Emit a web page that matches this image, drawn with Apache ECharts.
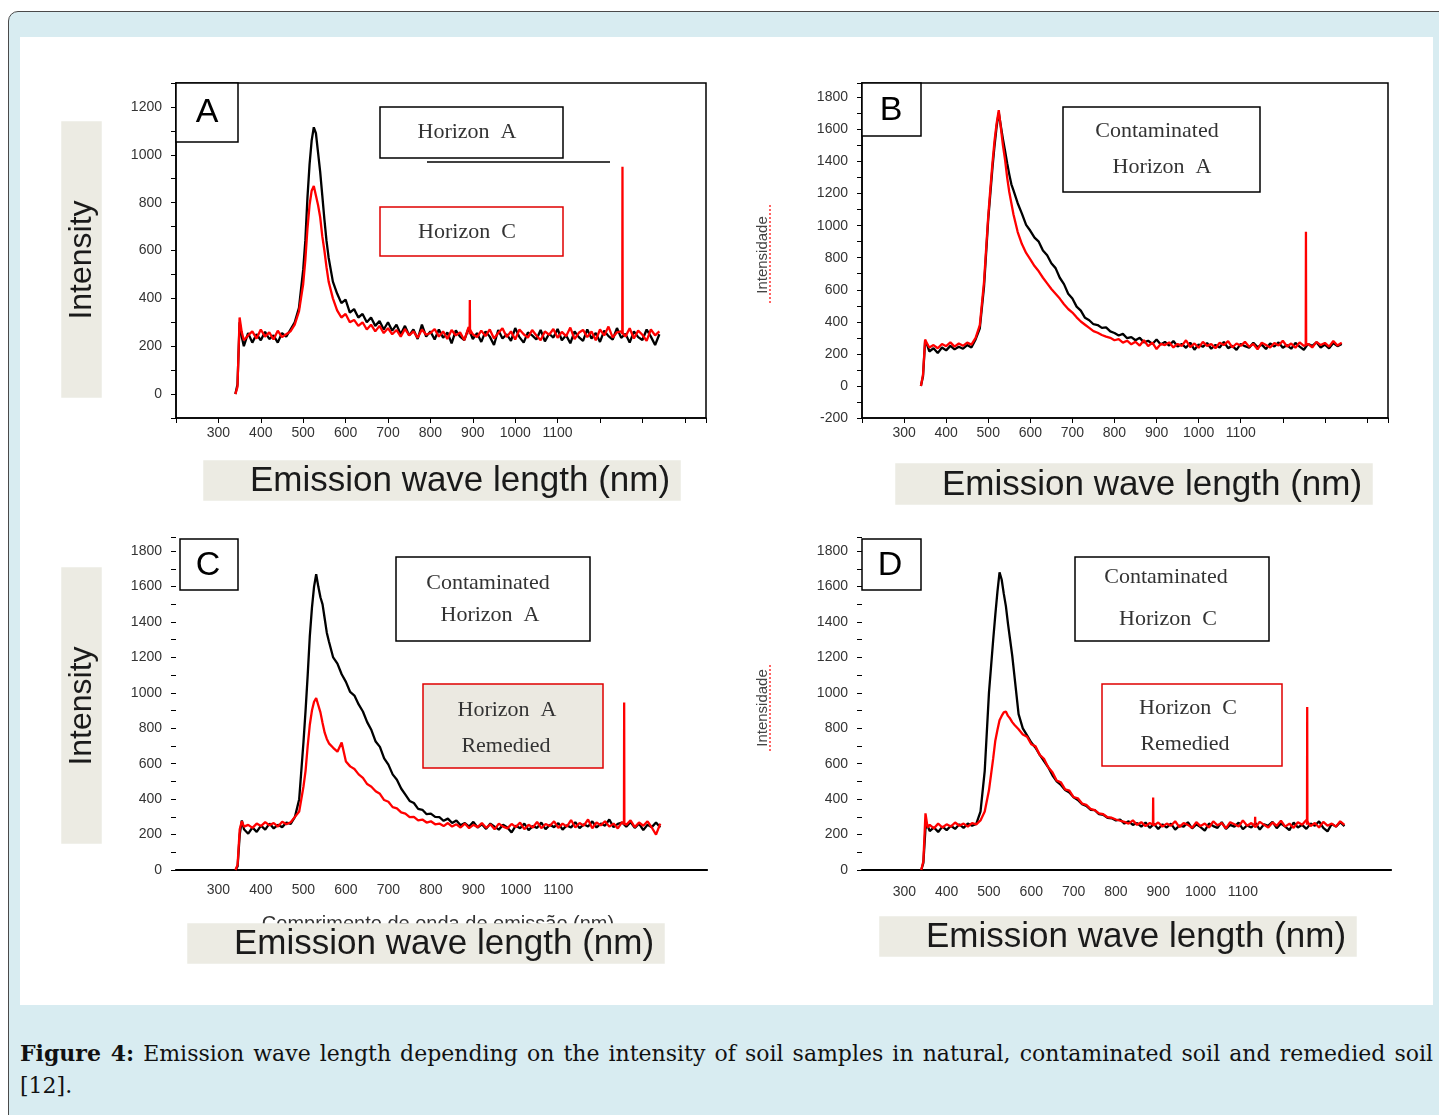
<!DOCTYPE html>
<html>
<head>
<meta charset="utf-8">
<script src="https://cdn.jsdelivr.net/npm/echarts@6/dist/echarts.min.js"></script>
<style>
  body { margin: 0; background: #fff; }
  .outer {
    position: absolute; left: 8px; top: 11px; width: 1460px; height: 1130px;
    background: #d8ecf1; border: 1.5px solid #4a4a4a; border-radius: 10px 0 0 0;
  }
  .inner { position: absolute; left: 20px; top: 37px; width: 1413px; height: 968px; background: #fff; }
  .caption {
    position: absolute; left: 20px; top: 1037px; width: 1413px;
    font-family: 'DejaVu Serif', serif; font-size: 22px; line-height: 32px; color: #111;
  }
  .caption .l1 { text-align: justify; text-align-last: justify; white-space: nowrap; }
  #chart { position: absolute; left: 0; top: 0; width: 1439px; height: 1115px; }
</style>
</head>
<body>
<div class="outer"></div>
<div class="inner"></div>
<div class="caption">
  <div class="l1"><b>Figure 4:</b> Emission wave length depending on the intensity of soil samples in natural, contaminated soil and remedied soil</div>
  <div>[12].</div>
</div>
<div id="chart"></div>
<script>
// wavelength sampling (nm), shared by all four panels
const wl = [340, 345, 350, 355, 360,
  370, 380, 390, 400, 410, 420, 430, 440, 450, 460, 470, 480, 490, 500,
  505, 510, 515, 520, 525, 530, 535, 540, 545, 550, 555, 560,
  570, 580, 590, 600, 610, 620, 630, 640, 650, 660, 670, 680, 690, 700, 710, 720, 730, 740, 750, 760, 770, 780, 790,
  800, 810, 820, 830, 840, 850, 860, 870, 880, 890, 900, 910, 920, 930, 940, 950, 960, 970, 980, 990,
  1000, 1010, 1020, 1030, 1040, 1050, 1060, 1070, 1080, 1090, 1100, 1110, 1120, 1130, 1140, 1150, 1160, 1170, 1180, 1190,
  1200, 1210, 1220, 1230, 1240, 1250, 1260, 1270, 1280, 1290, 1300, 1310, 1320, 1330, 1340]

// A: Horizon A (black) / Horizon C (red)
const horizonA = [0, 40, 300, 240, 200,
  255, 215, 250, 225, 260, 230, 245, 215, 255, 240, 270, 300, 360, 520,
  640, 820, 960, 1060, 1115, 1090, 1010, 930, 830, 730, 640, 570,
  470, 420, 380, 395, 340, 355, 320, 335, 300, 320, 285, 305, 270, 300, 265, 290, 250, 285, 245, 270, 230, 290, 240,
  262, 228, 270, 235, 258, 212, 266, 240, 225, 275, 230, 255, 218, 262, 240, 205, 268, 232, 250, 222,
  276, 238, 215, 258, 245, 228, 268, 220, 252, 236, 272, 225, 246, 212, 262, 238, 222, 270, 232, 255,
  218, 265, 242, 228, 276, 235, 252, 215, 262, 238, 226, 270, 240, 205, 250]
const horizonC = [0, 30, 320, 260, 225,
  245, 262, 232, 270, 240, 258, 228, 265, 238, 250, 262, 290, 345, 460,
  560, 690, 790, 850, 870, 830, 790, 740, 660, 600, 530, 470,
  400, 350, 320, 335, 300, 310, 285, 300, 270, 290, 262, 285, 255, 275, 250, 268, 240, 272, 245, 262, 235, 270, 248,
  255, 272, 240, 262, 230, 268, 245, 258, 225, 280, 250, 238, 265, 242, 270, 232, 255, 275, 238, 262,
  228, 270, 250, 236, 268, 245, 225, 262, 248, 272, 235, 260, 242, 278, 230, 256, 268, 238, 262, 225,
  270, 245, 282, 236, 258, 262, 240, 275, 232, 265, 248, 222, 270, 245, 262]

// B: Contaminated Horizon A (black) / Horizon A (red)
const contamA_B = [0, 60, 280, 255, 215,
  235, 205, 240, 222, 250, 228, 245, 232, 255, 240, 290, 360, 620, 1040,
  1200, 1360, 1500, 1620, 1705, 1620, 1540, 1466, 1390, 1320, 1258, 1220,
  1140, 1075, 1005, 968, 925, 900, 845, 815, 765, 735, 675, 635, 575, 545, 495, 470, 425, 410, 385, 380, 362, 365, 340,
  330, 315, 325, 298, 305, 285, 300, 272, 282, 262, 290, 258, 275, 252, 280, 246, 262, 238, 270, 226,
  258, 244, 268, 232, 256, 240, 275, 236, 250, 225, 262, 248, 238, 270, 242, 258, 230, 265, 246, 272,
  238, 255, 232, 268, 245, 226, 262, 250, 272, 240, 258, 235, 268, 248, 262]
const horizonA_B = [0, 70, 290, 262, 240,
  255, 235, 262, 248, 272, 245, 265, 250, 270, 258, 300, 380, 650, 1060,
  1230, 1390, 1530, 1640, 1720, 1610, 1500, 1410, 1300, 1210, 1140, 1070,
  960, 885, 830, 790, 748, 715, 675, 640, 605, 575, 545, 510, 480, 458, 428, 402, 382, 362, 342, 332, 318, 308, 300,
  285, 292, 270, 282, 260, 275, 252, 285, 248, 270, 230, 262, 255, 272, 240, 262, 250, 285, 242, 265,
  238, 275, 250, 262, 235, 270, 255, 280, 240, 265, 250, 275, 245, 262, 228, 270, 255, 240, 268, 252,
  282, 246, 265, 238, 272, 250, 262, 240, 275, 255, 268, 245, 280, 252, 270]

// C: Contaminated Horizon A (black) / Horizon A Remedied (red)
const contamA_C = [0, 20, 200, 280, 230,
  205, 240, 215, 250, 228, 262, 235, 255, 242, 268, 260, 300, 400, 720,
  900, 1100, 1320, 1480, 1600, 1670, 1600, 1540, 1500, 1420, 1340, 1290,
  1200, 1165, 1105, 1062, 1005, 985, 935, 895, 835, 790, 725, 695, 630, 595, 540, 510, 460, 425, 390, 378, 345, 340, 315,
  318, 300, 298, 278, 290, 265, 280, 252, 265, 245, 272, 240, 258, 232, 262, 245, 228, 255, 240, 212,
  250, 236, 262, 225, 248, 238, 268, 230, 255, 242, 265, 228, 252, 240, 270, 236, 258, 245, 275, 240,
  262, 250, 285, 242, 260, 268, 245, 270, 238, 262, 225, 255, 242, 268, 240]
const remedA = [0, 30, 230, 275, 245,
  255, 238, 262, 248, 270, 252, 265, 245, 272, 258, 270, 300, 330, 470,
  560, 700, 820, 900, 950, 970, 930, 890, 830, 775, 740, 715,
  690, 668, 720, 612, 585, 570, 540, 520, 485, 470, 445, 430, 395, 385, 355, 348, 325, 318, 298, 300, 280, 285, 268,
  275, 258, 262, 248, 265, 245, 258, 240, 262, 236, 255, 242, 265, 238, 258, 230, 262, 245, 235, 260,
  242, 268, 230, 255, 240, 272, 236, 260, 248, 275, 238, 262, 245, 282, 240, 265, 250, 285, 236, 268,
  252, 275, 245, 262, 235, 270, 255, 280, 242, 268, 250, 275, 240, 200, 262]

// D: Contaminated Horizon C (black) / Horizon C Remedied (red)
const contamC = [0, 40, 235, 250, 220,
  240, 215, 245, 225, 250, 232, 258, 238, 262, 250, 260, 330, 560, 1000,
  1150, 1300, 1440, 1570, 1680, 1640, 1560, 1490, 1390, 1300, 1210, 1100,
  880, 800, 760, 720, 690, 650, 615, 580, 535, 500, 480, 452, 438, 410, 395, 372, 362, 340, 338, 315, 312, 295, 292,
  280, 285, 262, 275, 255, 265, 245, 268, 238, 260, 232, 258, 240, 262, 228, 250, 245, 270, 235, 258,
  242, 222, 262, 248, 238, 270, 232, 255, 245, 268, 230, 252, 240, 265, 228, 258, 250, 272, 236, 262,
  245, 225, 268, 240, 255, 232, 262, 250, 275, 238, 218, 260, 245, 270, 248]
const remedC = [0, 50, 320, 240, 255,
  235, 262, 240, 258, 245, 268, 250, 262, 245, 265, 258, 280, 330, 450,
  540, 630, 730, 790, 845, 870, 890, 895, 870, 855, 835, 820,
  795, 765, 752, 710, 698, 650, 628, 580, 552, 505, 495, 455, 448, 412, 405, 375, 368, 345, 338, 320, 315, 298, 295,
  285, 278, 272, 262, 280, 255, 270, 248, 265, 252, 268, 245, 262, 250, 275, 242, 265, 255, 238, 270,
  248, 262, 240, 275, 252, 265, 235, 270, 258, 245, 280, 250, 265, 242, 272, 255, 240, 268, 250, 278,
  245, 262, 238, 270, 255, 282, 248, 265, 240, 272, 250, 262, 245, 275, 255]

// narrow red spikes (wavelength, peak height)
const spikeA_wl = [893, 1253]
const spikeA_top = [393, 950]
const spikeB_wl = [1255]
const spikeB_top = [962]
const spikeC_wl = [1255]
const spikeC_top = [946]
const spikeD_wl = [888, 1129, 1252]
const spikeD_top = [409, 300, 920]

const chart = echarts.init(document.getElementById('chart'), null, { renderer: 'canvas' })

function pairs(xs, ys) {
  return xs.map((x, i) => [x, ys[i]])
}
function spikeData(xs, tops, base) {
  const d = []
  xs.forEach((x, i) => {
    d.push([x - 0.5, base], [x, tops[i]], [x + 0.5, base], [x + 0.5, '-'])
  })
  return d
}

const tickFont = { color: '#333', fontFamily: 'Liberation Sans', fontSize: 14 }

function xAxisFor(gi, ticks, margin) {
  return {
    type: 'value', gridIndex: gi, min: 200, max: 1450, interval: 100,
    axisLine: { show: true, onZero: false, lineStyle: { color: '#000', width: 1.5 } },
    axisTick: { show: ticks, length: 5, lineStyle: { color: '#000' } },
    splitLine: { show: false },
    axisLabel: Object.assign({ margin: margin, formatter: v => (v >= 300 && v <= 1100 ? v : '') }, tickFont)
  }
}
function topLine(gi) {
  return {
    type: 'value', gridIndex: gi, position: 'top', min: 200, max: 1450,
    axisLine: { show: true, lineStyle: { color: '#000', width: 2 } },
    axisTick: { show: false }, axisLabel: { show: false }, splitLine: { show: false }
  }
}
function yAxisFor(gi, min, max, top, showLine) {
  return {
    type: 'value', gridIndex: gi, min: min, max: max, interval: 100,
    axisLine: { show: showLine, onZero: false, lineStyle: { color: '#000', width: 1.5 } },
    axisTick: { show: true, length: 5, lineStyle: { color: '#000' } },
    splitLine: { show: false },
    axisLabel: Object.assign({ margin: 14, formatter: v => (v % 200 === 0 && v <= top ? v : '') }, tickFont)
  }
}

function line(name, gi, data, color) {
  return {
    name: name, type: 'line', xAxisIndex: gi, yAxisIndex: gi, data: data,
    showSymbol: false, symbol: 'none', lineStyle: { color: color, width: 2.3 }, itemStyle: { color: color },
    silent: true
  }
}

// graphic helpers
function box(x, y, w, h, stroke, fill) {
  return { type: 'rect', z: 100, shape: { x: x, y: y, width: w, height: h },
    style: { fill: fill || '#fff', stroke: stroke, lineWidth: 1.5 } }
}
function txt(text, x, y, font, color, rot, z) {
  return { type: 'text', z: z || 101, x: x, y: y, rotation: rot || 0,
    style: { text: text, font: font, fill: color || '#333', align: 'center', verticalAlign: 'middle' } }
}
const serif = '22px "Liberation Serif"'
const panelFont = '34px "Liberation Sans"'
const titleFont = '35px "Liberation Sans"'
const beige = '#ecebe3'

const graphics = [
  // panel A
  box(176, 83, 62, 59, '#000'), txt('A', 207, 113, panelFont, '#000'),
  box(380, 107, 183, 51, '#000'), txt('Horizon  A', 467, 132, serif),
  { type: 'line', z: 100, shape: { x1: 427, y1: 162, x2: 610, y2: 162 }, style: { stroke: '#000', lineWidth: 1.5 } },
  box(380, 207, 183, 49, '#e00000'), txt('Horizon  C', 467, 232, serif),
  // panel B
  box(862, 83, 59, 53, '#000'), txt('B', 891, 111, panelFont, '#000'),
  box(1063, 107, 197, 85, '#000'), txt('Contaminated', 1157, 131, serif), txt('Horizon  A', 1162, 167, serif),
  // panel C
  box(180, 539, 58, 51, '#000'), txt('C', 208, 566, panelFont, '#000'),
  box(396, 557, 194, 84, '#000'), txt('Contaminated', 488, 583, serif), txt('Horizon  A', 490, 615, serif),
  box(423, 684, 180, 84, '#e00000', '#ebe9e1'), txt('Horizon  A', 507, 710, serif), txt('Remedied', 506, 746, serif),
  // panel D
  box(862, 539, 59, 51, '#000'), txt('D', 890, 566, panelFont, '#000'),
  box(1075, 557, 194, 84, '#000'), txt('Contaminated', 1166, 577, serif), txt('Horizon  C', 1168, 619, serif),
  box(1102, 684, 180, 82, '#e00000'), txt('Horizon  C', 1188, 708, serif), txt('Remedied', 1185, 744, serif),
  // axis titles
  box(62, 122, 39, 275, beige, beige), txt('Intensity', 82, 260, '32px "Liberation Sans"', '#1a1a1a', Math.PI / 2, 102),
  box(62, 568, 39, 275, beige, beige), txt('Intensity', 82, 706, '32px "Liberation Sans"', '#1a1a1a', Math.PI / 2, 102),
  txt('Intensidade', 763, 255, '15px "Liberation Sans Narrow", "Liberation Sans"', '#444', Math.PI / 2),
  { type: 'line', z: 100, shape: { x1: 770, y1: 205, x2: 770, y2: 305 }, style: { stroke: '#ff3030', lineWidth: 1.5, lineDash: [2, 2] } },
  txt('Intensidade', 763, 708, '15px "Liberation Sans Narrow", "Liberation Sans"', '#444', Math.PI / 2),
  { type: 'line', z: 100, shape: { x1: 770, y1: 665, x2: 770, y2: 752 }, style: { stroke: '#ff3030', lineWidth: 1.5, lineDash: [2, 2] } },
  txt('Comprimento de onda de emissão (nm)', 438, 924, '20px "Liberation Sans"', '#333', 0, 100),
  box(204, 461, 476, 39, beige, beige), txt('Emission wave length (nm)', 460, 481, titleFont, '#1a1a1a', 0, 102),
  box(896, 464, 476, 40, beige, beige), txt('Emission wave length (nm)', 1152, 485, titleFont, '#1a1a1a', 0, 102),
  Object.assign(box(188, 924, 476, 39, beige, beige), { z: 101 }), txt('Emission wave length (nm)', 444, 944, titleFont, '#1a1a1a', 0, 102),
  box(880, 917, 476, 39, beige, beige), txt('Emission wave length (nm)', 1136, 937, titleFont, '#1a1a1a', 0, 102)
]

const option = {
  backgroundColor: 'transparent',
  animation: false,
  grid: [
    { left: 176, top: 83, width: 530, height: 335, show: true, borderColor: '#000', borderWidth: 1.5 },
    { left: 862, top: 83, width: 526, height: 335, show: true, borderColor: '#000', borderWidth: 1.5 },
    { left: 176, top: 537, width: 531, height: 333 },
    { left: 862, top: 537, width: 529, height: 333 }
  ],
  xAxis: [
    xAxisFor(0, true, 8), xAxisFor(1, true, 8), xAxisFor(2, false, 13), xAxisFor(3, false, 15),
    topLine(2), topLine(3)
  ],
  yAxis: [
    yAxisFor(0, -100, 1300, 1200, true),
    yAxisFor(1, -200, 1890, 1800, true),
    yAxisFor(2, 0, 1880, 1800, false),
    yAxisFor(3, 0, 1880, 1800, false)
  ],
  series: [
    line('Horizon A', 0, pairs(wl, horizonA), '#000'),
    line('Horizon C', 0, pairs(wl, horizonC), '#ff0000'),
    line('spikes A', 0, spikeData(spikeA_wl, spikeA_top, 250), '#ff0000'),
    line('Contaminated Horizon A', 1, pairs(wl, contamA_B), '#000'),
    line('Horizon A', 1, pairs(wl, horizonA_B), '#ff0000'),
    line('spikes B', 1, spikeData(spikeB_wl, spikeB_top, 260), '#ff0000'),
    line('Contaminated Horizon A', 2, pairs(wl, contamA_C), '#000'),
    line('Horizon A Remedied', 2, pairs(wl, remedA), '#ff0000'),
    line('spikes C', 2, spikeData(spikeC_wl, spikeC_top, 255), '#ff0000'),
    line('Contaminated Horizon C', 3, pairs(wl, contamC), '#000'),
    line('Horizon C Remedied', 3, pairs(wl, remedC), '#ff0000'),
    line('spikes D', 3, spikeData(spikeD_wl, spikeD_top, 255), '#ff0000')
  ],
  graphic: graphics
}

chart.setOption(option)
</script>
</body>
</html>
